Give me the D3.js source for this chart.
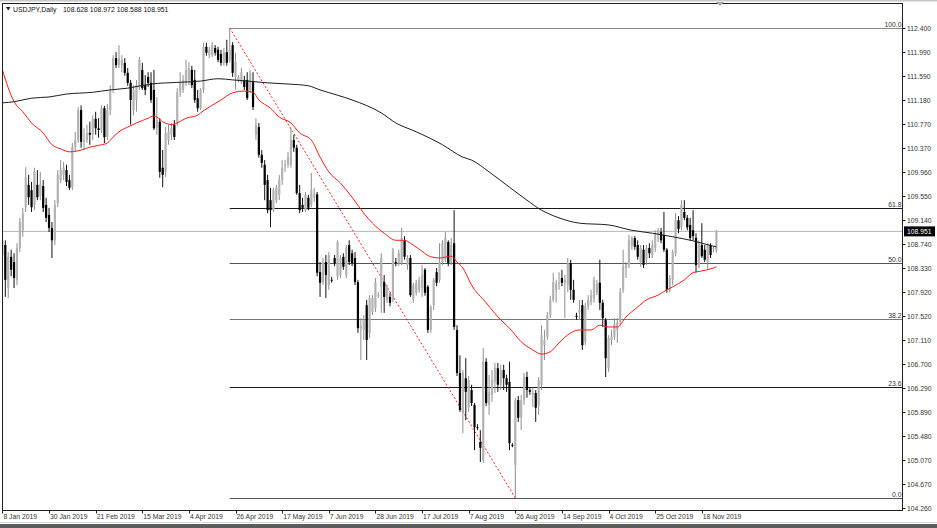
<!DOCTYPE html>
<html><head><meta charset="utf-8">
<script src="https://cdn.jsdelivr.net/npm/d3@7"></script>
<style>html,body{margin:0;padding:0;background:#fff;overflow:hidden}svg{display:block}text{font-family:"Liberation Sans",Arial,sans-serif}</style>
</head><body><svg id="c" width="937" height="528"></svg>
<script>
// ---------- data (USDJPY daily, bar index 0 = 8 Jan 2019) ----------
const open=[
108.55,108.72,107.99,108.52,108.43,108.13,108.67,108.97,109.36,109.74,
109.65,109.40,109.74,109.55,109.72,109.40,109.23,109.01,108.80,109.43,
109.82,109.91,109.99,109.82,109.70,110.38,110.50,111.01,110.47,110.50,
110.62,110.59,110.86,110.70,110.67,111.04,110.55,111.01,111.35,111.89,
111.77,111.77,111.81,111.64,111.47,111.01,111.18,111.40,111.69,111.43,
111.57,111.47,111.35,110.70,110.81,110.03,109.96,110.50,110.59,110.76,
110.79,111.31,111.35,111.47,111.52,111.69,111.52,111.21,111.04,111.35,
112.08,111.94,111.94,112.06,112.03,111.96,111.81,111.99,111.86,112.11,
111.57,111.52,111.48,111.52,111.52,111.35,111.48,110.59,110.72,110.25,
110.08,109.82,109.48,109.31,109.48,109.57,109.82,110.06,110.08,110.08,
110.50,110.37,109.60,109.40,109.31,109.52,109.40,109.52,109.58,108.26,
108.09,108.43,108.04,108.13,108.50,108.18,108.21,108.52,108.21,108.72,
108.58,108.50,108.09,107.31,107.28,107.70,107.23,107.58,107.65,107.86,
108.01,108.09,107.79,107.84,107.79,108.43,108.41,108.41,108.80,108.38,
108.50,107.79,107.91,107.96,107.99,108.30,108.01,107.28,107.70,108.26,
108.13,108.43,108.47,108.77,108.43,108.75,107.28,106.55,105.89,106.46,
105.96,106.26,106.01,105.63,105.38,105.07,106.74,106.01,106.18,106.40,
106.63,106.35,106.60,106.46,106.40,105.33,104.99,106.09,105.79,106.09,
106.48,106.26,106.18,106.21,105.99,106.35,107.02,107.16,107.53,107.79,
107.96,108.06,108.16,108.08,108.04,108.41,107.96,107.52,107.58,107.70,
107.08,107.68,107.75,107.82,107.91,108.08,107.74,107.45,106.63,107.11,
107.16,107.28,107.41,107.96,108.33,108.38,108.70,108.84,108.72,108.43,
108.64,108.47,108.67,108.55,108.67,108.89,108.94,108.89,108.64,107.96,
108.13,108.58,109.14,109.02,109.28,109.18,109.06,108.97,108.84,108.35,
108.72,108.64,108.43,108.72,108.65,108.628];
const high=[
109.09,108.80,108.60,108.64,108.58,108.75,109.18,109.35,110.04,109.91,
109.79,110.03,109.99,109.96,109.82,109.52,109.35,109.11,109.48,109.99,
110.16,110.13,110.08,109.91,110.45,110.64,111.06,111.09,110.70,110.76,
110.81,110.92,110.98,110.87,111.09,111.08,111.11,111.43,111.94,111.99,
112.11,111.94,111.89,111.72,111.52,111.43,111.52,111.91,111.81,111.60,
111.65,111.65,111.69,111.23,110.87,110.33,110.72,110.76,110.79,110.84,
111.38,111.65,111.60,111.86,111.82,111.76,111.69,111.35,111.38,112.15,
112.15,112.08,112.16,112.11,112.08,112.03,112.06,112.20,112.40,112.16,
111.98,111.60,111.72,111.59,111.65,111.69,111.65,110.87,110.79,110.33,
110.16,109.91,109.69,109.69,109.74,109.91,110.16,110.16,110.30,110.70,
110.59,110.42,109.74,109.52,109.62,109.57,109.94,109.69,109.62,108.43,
108.50,108.55,108.60,108.18,108.55,108.80,108.55,108.58,108.72,108.80,
108.64,108.60,108.13,107.48,107.53,107.79,107.87,107.87,108.16,107.92,
108.58,108.21,108.04,107.91,108.67,108.50,108.64,109.01,108.87,108.55,
108.55,108.08,108.13,108.18,108.38,108.33,108.04,107.70,108.16,108.33,
108.75,108.80,108.94,108.80,108.84,109.31,107.36,106.85,106.60,106.80,
106.50,106.35,106.04,105.68,105.58,106.97,106.80,106.52,106.60,106.72,
106.72,106.69,106.69,106.52,106.74,105.36,106.13,106.16,106.18,106.55,
106.57,106.30,106.30,106.26,106.48,107.36,107.28,107.58,107.86,108.25,
108.13,108.26,108.30,108.21,108.50,108.47,108.13,107.57,107.79,107.79,
107.74,107.87,107.96,108.18,108.13,108.47,107.79,107.48,107.19,107.28,
107.48,107.48,107.99,108.64,108.43,108.89,108.87,108.87,108.80,108.72,
108.72,108.72,108.75,108.80,108.97,109.01,109.01,109.28,108.67,108.21,
108.64,109.26,109.21,109.48,109.48,109.23,109.18,109.31,108.92,108.80,
109.09,108.72,108.75,108.75,108.70,108.972];
const low=[
108.43,107.84,107.82,108.19,107.99,108.04,108.60,108.86,109.28,109.40,
109.28,109.31,109.48,109.48,109.28,109.11,108.94,108.50,108.72,109.36,
109.77,109.82,109.72,109.65,109.65,110.30,110.45,110.37,110.33,110.45,
110.42,110.50,110.59,110.54,110.62,110.45,110.50,110.92,111.30,111.72,
111.72,111.65,111.59,111.42,110.76,110.92,110.98,111.35,111.35,111.26,
111.40,111.13,110.67,110.59,109.86,109.70,109.87,110.42,110.50,110.50,
110.74,111.23,111.30,111.42,111.43,111.38,111.13,110.98,111.01,111.30,
111.93,111.89,111.91,111.93,111.82,111.76,111.76,111.76,111.81,111.57,
111.35,111.48,111.45,111.35,111.18,111.30,111.01,110.50,110.20,110.03,
109.48,109.26,109.02,109.28,109.43,109.48,109.74,109.96,110.03,110.03,
110.30,109.57,109.26,109.28,109.28,109.31,109.36,109.45,108.19,107.84,
108.04,107.82,107.96,108.08,108.36,108.13,108.16,108.30,108.16,108.38,
108.36,108.04,107.23,106.77,107.11,106.77,107.14,107.53,107.58,107.82,
107.57,107.57,107.74,107.68,107.75,108.36,108.36,108.38,108.47,108.30,
107.84,107.74,107.86,107.91,107.84,107.86,107.23,107.23,107.62,108.02,
108.08,108.38,108.43,108.36,108.38,107.28,106.50,105.89,105.53,105.75,
105.89,105.99,105.24,105.58,105.04,105.02,105.99,105.84,106.06,106.21,
106.23,106.26,106.26,106.23,105.24,105.29,104.43,105.72,105.58,106.01,
106.13,106.18,105.97,105.72,105.84,106.26,106.77,107.11,107.48,107.75,
107.74,107.96,108.02,107.48,107.92,107.79,107.74,107.45,107.45,106.94,
107.02,107.62,107.70,107.74,107.87,107.62,107.33,106.48,106.57,107.02,
107.11,107.06,107.36,107.91,108.16,108.33,108.64,108.64,108.47,108.35,
108.33,108.38,108.50,108.50,108.60,108.77,108.75,108.60,107.91,107.92,
108.04,108.53,108.92,108.97,109.14,108.97,108.80,108.80,108.25,108.33,
108.50,108.43,108.30,108.50,108.60,108.588];
const close=[
108.80,108.13,108.52,108.30,108.16,108.67,109.11,109.26,109.87,109.53,
109.36,109.96,109.53,109.75,109.35,109.18,109.01,108.80,109.40,109.91,
109.99,110.03,109.79,109.69,110.38,110.50,111.01,110.47,110.50,110.62,
110.59,110.86,110.70,110.67,111.04,110.55,111.01,111.35,111.89,111.77,
111.89,111.86,111.64,111.47,111.18,111.35,111.43,111.86,111.38,111.35,
111.47,111.18,110.70,110.84,109.96,109.91,110.62,110.64,110.70,110.55,
111.31,111.48,111.52,111.69,111.72,111.43,111.18,111.04,111.35,112.08,
111.98,112.03,112.11,111.98,111.86,111.81,111.99,111.81,112.03,111.64,
111.82,111.57,111.65,111.40,111.21,111.64,111.06,110.76,110.25,110.11,
109.74,109.31,109.31,109.65,109.69,109.82,110.03,110.08,110.21,110.50,
110.37,109.60,109.31,109.35,109.57,109.35,109.65,109.58,108.25,108.08,
108.43,108.21,108.55,108.12,108.41,108.77,108.50,108.35,108.67,108.43,
108.41,108.09,107.31,107.35,107.45,107.11,107.82,107.82,108.09,107.87,
108.50,107.84,108.01,107.74,108.64,108.42,108.58,108.84,108.52,108.50,
107.87,108.04,108.08,108.13,108.21,107.91,107.28,107.67,108.13,108.08,
108.43,108.75,108.84,108.41,108.72,107.33,106.55,105.92,106.55,106.23,
106.43,106.04,105.63,105.62,105.28,106.74,106.04,106.23,106.43,106.63,
106.35,106.60,106.46,106.35,105.36,105.32,106.09,105.79,106.09,106.48,
106.26,106.23,106.21,105.96,106.43,107.19,107.11,107.53,107.79,108.09,
108.06,108.08,108.08,108.13,108.41,107.96,107.79,107.50,107.62,107.02,
107.68,107.79,107.87,108.13,108.06,107.74,107.48,106.80,107.14,107.17,
107.38,107.41,107.92,108.36,108.40,108.80,108.84,108.69,108.52,108.67,
108.38,108.67,108.58,108.72,108.92,108.97,108.80,108.64,107.96,108.16,
108.60,109.14,108.99,109.40,109.18,109.02,108.84,108.87,108.38,108.75,
108.53,108.47,108.72,108.55,108.67,108.951];

// moving averages (bar index -> price)
const maFastBars=[0,4,7,10,14,17,20,23,27,30,34,36,38,40,43,46,50,52,53,55,57,58,60,63,67,68,71,75,79,83,86,88,92,95,99,102,106,109,112,116,120,124,127,131,135,138,140,143,147,150,154,156,158,161,166,171,174,178,182,185,188,191,195,198,202,205,208,211,214,218,221,225,228,230,234,237,240,244,245];
const maFastVals=[111.69,111.15,110.98,110.79,110.62,110.42,110.35,110.30,110.33,110.38,110.42,110.45,110.55,110.64,110.72,110.79,110.87,110.91,110.89,110.81,110.77,110.76,110.79,110.87,110.92,110.96,111.06,111.18,111.30,111.33,111.31,111.18,111.04,110.89,110.79,110.62,110.50,110.21,109.96,109.77,109.53,109.26,109.09,108.92,108.80,108.80,108.75,108.65,108.52,108.50,108.53,108.43,108.33,108.04,107.74,107.45,107.31,107.08,106.94,106.87,106.91,107.06,107.23,107.28,107.28,107.36,107.33,107.33,107.50,107.67,107.79,107.87,107.96,108.01,108.13,108.25,108.28,108.33,108.35];
const maSlowBars=[0,4,10,16,22,31,37,43,51,61,68,74,79,84,91,98,105,109,115,120,130,135,142,151,158,161,167,174,180,185,187,191,198,208,216,223,230,237,244,245];
const maSlowVals=[111.13,111.15,111.21,111.23,111.28,111.31,111.35,111.38,111.45,111.48,111.50,111.54,111.52,111.50,111.47,111.45,111.42,111.35,111.26,111.18,110.96,110.79,110.64,110.42,110.21,110.16,109.96,109.70,109.48,109.31,109.26,109.18,109.09,109.06,108.97,108.92,108.86,108.79,108.70,108.69];

// Fibonacci retracement (swing high bar 78 -> swing low bar 176)
const fibLabels=["100.0","61.8","50.0","38.2","23.6","0.0"];
const fibPrices=[112.40,109.35,108.42,107.47,106.31,104.43];
const fibStartBar=78, fibEndBar=176;

const priceTicks=[112.400,111.990,111.590,111.180,110.770,110.370,109.960,109.550,109.140,108.740,108.330,107.920,107.520,107.110,106.700,106.290,105.890,105.480,105.070,104.670,104.260];
const dateLabels=["8 Jan 2019","30 Jan 2019","21 Feb 2019","15 Mar 2019","4 Apr 2019","26 Apr 2019","17 May 2019","7 Jun 2019","28 Jun 2019","17 Jul 2019","7 Aug 2019","26 Aug 2019","14 Sep 2019","4 Oct 2019","25 Oct 2019","18 Nov 2019"];
const dateLabelBars=[0,16,32,48,64,80,96,112,128,144,160,176,192,208,224,240];
const symbolTitle="USDJPY,Daily";
const lastQuote=[108.628,108.972,108.588,108.951];

// ---------- drawing ----------
const svg=d3.select("#c");
const L=2.5,T=3.5,R=902.5,B=510.5;
const x=d3.scaleLinear().domain([0,245]).range([2.4,716.4]);
const y=d3.scaleLinear().domain([104.26,112.4]).range([508,28]);

svg.append("rect").attr("width",937).attr("height",528).attr("fill","#fff");
svg.append("rect").attr("x",0).attr("y",0).attr("width",937).attr("height",1.5).attr("fill","#c8c8c8");
svg.append("rect").attr("x",0).attr("y",524).attr("width",937).attr("height",4).attr("fill","#5c5c5c");
svg.append("line").attr("x1",0).attr("x2",937).attr("y1",522.5).attr("y2",522.5).attr("stroke","#d8d8d8");

svg.append("defs").append("clipPath").attr("id","clip").append("rect")
  .attr("x",L).attr("y",T).attr("width",R-L).attr("height",B-T);
const g=svg.append("g").attr("clip-path","url(#clip)");

// current price line
const lastClose=lastQuote[3];
g.append("line").attr("x1",L).attr("x2",R).attr("y1",y(lastClose)).attr("y2",y(lastClose))
  .attr("stroke","#b4b4b4").attr("stroke-width",1);

// fib lines
const fibColors=["#8a8a8a","#1a1a1a","#555","#777","#1a1a1a","#555"];
fibPrices.forEach((p,k)=>{
  const yy=Math.round(y(p))+0.5;
  g.append("line").attr("x1",x(fibStartBar)).attr("x2",R).attr("y1",yy).attr("y2",yy)
    .attr("stroke",fibColors[k]).attr("stroke-width",1);
});
// fib base (dotted red)
g.append("line").attr("x1",x(fibStartBar)).attr("y1",y(high[fibStartBar]))
  .attr("x2",x(fibEndBar)).attr("y2",y(low[fibEndBar]))
  .attr("stroke","#ff2020").attr("stroke-width",1).attr("stroke-dasharray","2,2");

// candles
const idx=d3.range(open.length);
const cg=g.append("g");
idx.forEach(i=>{
  const o=open[i],c=close[i],h=high[i],l=low[i];
  const bull=c>=o;
  const cx=x(i);
  cg.append("line").attr("x1",cx).attr("x2",cx).attr("y1",y(h)).attr("y2",y(l))
    .attr("stroke",bull?"#8f8f8f":"#111").attr("stroke-width",1);
  const yt=y(Math.max(o,c)), yb=y(Math.min(o,c));
  cg.append("rect").attr("x",cx-1.1).attr("width",2.2).attr("y",yt).attr("height",Math.max(0.9,yb-yt))
    .attr("fill",bull?"#b3b3b3":"#000");
});

// moving averages
const line=d3.line().x(d=>x(d[0])).y(d=>y(d[1])).curve(d3.curveMonotoneX);
g.append("path").attr("d",line(maSlowBars.map((b,k)=>[b,maSlowVals[k]])))
  .attr("fill","none").attr("stroke","#1e1e1e").attr("stroke-width",1);
g.append("path").attr("d",line(maFastBars.map((b,k)=>[b,maFastVals[k]])))
  .attr("fill","none").attr("stroke","#ff1a1a").attr("stroke-width",1);

// fib labels
fibPrices.forEach((p,k)=>{
  svg.append("text").attr("x",901.5).attr("y",Math.round(y(p))-1).attr("text-anchor","end")
    .attr("font-size",6.8).attr("fill","#333").text(fibLabels[k]);
});

// frame
svg.append("rect").attr("x",L).attr("y",T).attr("width",R-L).attr("height",B-T)
  .attr("fill","none").attr("stroke","#222").attr("stroke-width",1);

// price axis
priceTicks.forEach(p=>{
  const yy=Math.round(y(p))+0.5;
  svg.append("line").attr("x1",R).attr("x2",R+3).attr("y1",yy).attr("y2",yy).attr("stroke","#222");
  svg.append("text").attr("x",907).attr("y",yy).attr("dy","0.35em").attr("font-size",6.8)
    .attr("fill","#333").text(p.toFixed(3));
});
// current price tag
svg.append("rect").attr("x",904).attr("y",y(lastClose)-5).attr("width",31).attr("height",10).attr("fill","#000");
svg.append("text").attr("x",907).attr("y",y(lastClose)).attr("dy","0.35em").attr("font-size",6.8)
  .attr("fill","#fff").text(lastClose.toFixed(3));

// date axis
dateLabelBars.forEach((b,k)=>{
  const xx=Math.round(x(b))+0.5;
  svg.append("line").attr("x1",xx).attr("x2",xx).attr("y1",B).attr("y2",B+3).attr("stroke","#222");
  svg.append("text").attr("x",x(b)+1).attr("y",519).attr("font-size",6.8).attr("fill","#333").text(dateLabels[k]);
});

// title
svg.append("path").attr("d","M6,7 L10.5,7 L8.25,10.5 Z").attr("fill","#222");
svg.append("text").attr("x",13).attr("y",11.5).attr("font-size",6.9).attr("fill","#111").text(symbolTitle);
svg.append("text").attr("x",63).attr("y",11.5).attr("font-size",6.9).attr("fill","#111")
  .text(lastQuote.map(v=>v.toFixed(3)).join(" "));
// chart shift marker
svg.append("path").attr("d","M716,2 L724,2 L720,6 Z").attr("fill","#a8a8a8");
</script>
</body></html>
